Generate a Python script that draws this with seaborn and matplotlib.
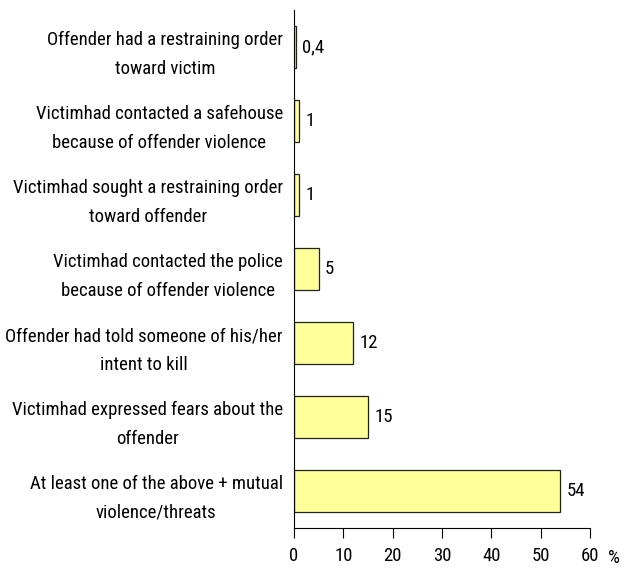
import matplotlib
matplotlib.use("Agg")
import matplotlib.pyplot as plt
import seaborn as sns
import pandas as pd

categories = [
    "Offender had a restraining order\ntoward victim",
    "Victimhad contacted a safehouse\nbecause of offender violence",
    "Victimhad sought a restraining order\ntoward offender",
    "Victimhad contacted the police\nbecause of offender violence",
    "Offender had told someone of his/her\nintent to kill",
    "Victimhad expressed fears about the\noffender",
    "At least one of the above + mutual\nviolence/threats",
]
values = [0.4, 1, 1, 5, 12, 15, 54]
value_labels = ["0,4", "1", "1", "5", "12", "15", "54"]
xticks = [0, 10, 20, 30, 40, 50, 60]

sns.set_style("white")
plt.rcParams["font.family"] = ["Roboto Condensed", "Liberation Sans", "DejaVu Sans"]

df = pd.DataFrame({"cat": categories, "val": values})

fig = plt.figure(figsize=(6.27, 5.68), dpi=100)
ax = fig.add_axes([0.469, 0.0704, 0.472, 0.912])
sns.barplot(data=df, x="val", y="cat", orient="h", color="#FFFF99",
            edgecolor="#222222", linewidth=0.9, width=0.57, saturation=1, ax=ax)

ax.set_xlim(0, 60)
ax.set_ylim(len(categories) - 0.5, -0.5)
ax.set_xticks(xticks)
ax.set_xticklabels([str(t) for t in xticks], fontsize=13.5, color="black")
ax.tick_params(axis="x", direction="out", length=7, width=0.8, pad=7, bottom=True,
               colors="black")
ax.tick_params(axis="y", length=0, pad=8)
ax.set_yticklabels(categories, fontsize=13.5, ha="right", multialignment="center",
                   linespacing=1.75, color="black")
ax.set_xlabel("")
ax.set_ylabel("")
for s in ["top", "right"]:
    ax.spines[s].set_visible(False)
for s in ["left", "bottom"]:
    ax.spines[s].set_color("black")
    ax.spines[s].set_linewidth(0.8)

for i, (v, l) in enumerate(zip(values, value_labels)):
    ax.text(v + 1.3, i, l, va="center", ha="left", fontsize=13.5, color="black")

ax.text(63.6, -0.058, "%", transform=ax.get_xaxis_transform(), fontsize=13.5,
        va="center", ha="left", color="black", clip_on=False)

fig.savefig("out.png", dpi=100)
